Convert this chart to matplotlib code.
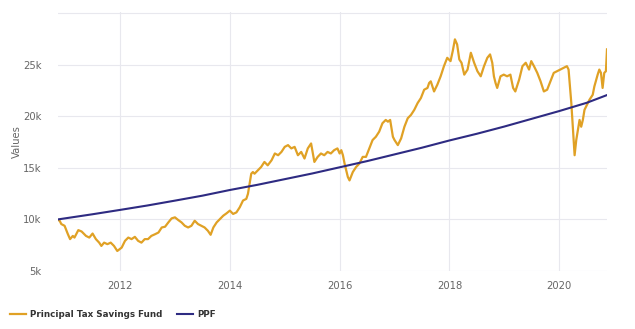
import matplotlib
matplotlib.use("Agg")
import matplotlib.pyplot as plt

# Principal Tax Savings Fund (year, value)
fund_years = [
    2010.87, 2010.90, 2010.93, 2010.99, 2011.05, 2011.09, 2011.14, 2011.17, 2011.24, 2011.30,
    2011.38, 2011.44, 2011.50, 2011.56, 2011.62, 2011.66, 2011.71, 2011.77, 2011.83, 2011.89,
    2011.95, 2012.03, 2012.09, 2012.15, 2012.21, 2012.27, 2012.33, 2012.39, 2012.45, 2012.51,
    2012.57, 2012.64, 2012.70, 2012.76, 2012.82, 2012.88, 2012.94, 2013.00, 2013.06, 2013.12,
    2013.18, 2013.24, 2013.30, 2013.36, 2013.42, 2013.48, 2013.54, 2013.60, 2013.65, 2013.70,
    2013.76, 2013.82, 2013.88, 2013.94, 2014.00, 2014.06, 2014.12, 2014.18, 2014.24, 2014.30,
    2014.33, 2014.36, 2014.39, 2014.42, 2014.45, 2014.51, 2014.57, 2014.63, 2014.69, 2014.76,
    2014.82, 2014.88, 2014.94, 2015.00, 2015.06, 2015.12, 2015.18, 2015.24, 2015.30, 2015.36,
    2015.42, 2015.48, 2015.54, 2015.60, 2015.66, 2015.72, 2015.78, 2015.84, 2015.90, 2015.96,
    2016.00, 2016.03, 2016.06, 2016.09, 2016.12, 2016.15, 2016.18, 2016.24, 2016.30, 2016.36,
    2016.42, 2016.48, 2016.54, 2016.60, 2016.66, 2016.72, 2016.78, 2016.84, 2016.88, 2016.92,
    2016.97, 2017.00, 2017.06, 2017.12, 2017.18, 2017.24, 2017.30, 2017.36, 2017.42, 2017.48,
    2017.54, 2017.60, 2017.63, 2017.66, 2017.72, 2017.78, 2017.84, 2017.90, 2017.96, 2018.02,
    2018.06, 2018.10, 2018.14, 2018.18, 2018.22, 2018.27, 2018.33, 2018.39, 2018.45, 2018.51,
    2018.57, 2018.63, 2018.69, 2018.74, 2018.78, 2018.81, 2018.84, 2018.87, 2018.93, 2018.99,
    2019.05, 2019.11, 2019.16, 2019.20, 2019.27, 2019.33, 2019.39, 2019.45, 2019.49, 2019.54,
    2019.60, 2019.66, 2019.72, 2019.78, 2019.84, 2019.90, 2019.96, 2020.02, 2020.08, 2020.14,
    2020.17, 2020.19, 2020.22, 2020.25, 2020.28, 2020.31, 2020.34, 2020.37, 2020.40, 2020.43,
    2020.46, 2020.49, 2020.55, 2020.61, 2020.64, 2020.70, 2020.73, 2020.76, 2020.79, 2020.82,
    2020.85, 2020.87,
]
fund_values = [
    9950, 9870, 9550, 9380, 8570, 8090, 8400, 8240, 8960, 8830,
    8400, 8240, 8630, 8090, 7750, 7430, 7750, 7600, 7750, 7430,
    6940, 7270, 7920, 8240, 8090, 8310, 7920, 7750, 8090, 8090,
    8400, 8570, 8730, 9220, 9290, 9710, 10100, 10200, 9940, 9710,
    9380, 9220, 9380, 9870, 9550, 9380, 9220, 8900, 8510, 9220,
    9710, 10040, 10360, 10590, 10850, 10530, 10680, 11170, 11830, 11990,
    12480, 13460, 14430, 14590, 14430, 14750, 15080, 15570, 15240, 15730,
    16390, 16220, 16540, 17030, 17200, 16880, 17030, 16220, 16540, 15900,
    16880, 17360, 15570, 16060, 16390, 16220, 16540, 16390, 16710, 16880,
    16390, 16710, 16220, 15410, 14750, 14100, 13780, 14590, 15080, 15410,
    16060, 16060, 16880, 17690, 18010, 18500, 19320, 19640, 19470, 19640,
    18010, 17690, 17200, 17850, 18980, 19800, 20130, 20620, 21270, 21760,
    22570, 22740, 23220, 23380, 22400, 23060, 23870, 24850, 25660, 25340,
    26310, 27450, 26960, 25500, 25180, 24030, 24520, 26150, 25180, 24360,
    23870, 24850, 25660, 25990, 25180, 23870, 23220, 22740, 23870, 24030,
    23870, 24030, 22740, 22400, 23550, 24850, 25180, 24520, 25340, 24850,
    24200, 23380, 22400, 22570, 23380, 24200, 24360, 24520, 24690, 24850,
    24520, 23220, 21270, 18660, 16220, 17690, 18660, 19640, 18980, 19640,
    20620, 20940, 21590, 22080, 22890, 24030, 24520, 24200, 22740, 24200,
    24360, 26480,
]

# PPF (year, value)
ppf_years = [2010.87, 2011.5, 2012.0, 2012.5, 2013.0, 2013.5, 2014.0, 2014.5, 2015.0,
             2015.5, 2016.0, 2016.5, 2017.0, 2017.5, 2018.0, 2018.5, 2019.0, 2019.5,
             2020.0, 2020.5, 2020.87]
ppf_values = [10000, 10500, 10920, 11350, 11820, 12300, 12850, 13350, 13900,
              14450, 15050, 15650, 16300, 16950, 17650, 18300, 19000, 19750,
              20500, 21300, 22050]

x_ticks = [2012, 2014, 2016, 2018, 2020]
y_ticks = [5000, 10000, 15000, 20000, 25000]
y_tick_labels = ["5k", "10k", "15k", "20k", "25k"]

fund_color = "#E0A125"
ppf_color = "#2E2B82"
grid_color = "#E8E8EE"

fig = plt.figure(figsize=(6.35, 3.29), dpi=100)
ax = fig.add_axes([58 / 635, 1 - 271 / 329, (607 - 58) / 635, (271 - 12) / 329])

ax.plot(fund_years, fund_values, color=fund_color, lw=1.6, zorder=3,
        label="Principal Tax Savings Fund")
ax.plot(ppf_years, ppf_values, color=ppf_color, lw=1.5, zorder=4, label="PPF")

ax.set_xlim(2010.87, 2020.87)
ax.set_ylim(5000, 30100)
ax.set_xticks(x_ticks)
ax.set_xticklabels([str(t) for t in x_ticks])
ax.set_yticks(y_ticks + [30000])
ax.set_yticklabels(y_tick_labels + [""])
ax.grid(True, color=grid_color, lw=0.8, zorder=0)
for s in ax.spines.values():
    s.set_visible(False)
ax.tick_params(length=0, labelsize=7.2, colors="#666666")
ax.tick_params(axis="x", pad=7)
ax.tick_params(axis="y", pad=12)
ax.set_ylabel("Values", fontsize=7.2, color="#666666", labelpad=1)

leg = fig.legend(loc="lower left", bbox_to_anchor=(2 / 635, 2 / 329), ncol=2, frameon=False,
                 prop={"weight": "bold", "size": 6.3}, handlelength=1.8,
                 handletextpad=0.5, columnspacing=1.7)
for t in leg.get_texts():
    t.set_color("#333333")

fig.savefig("out.png", dpi=100)
